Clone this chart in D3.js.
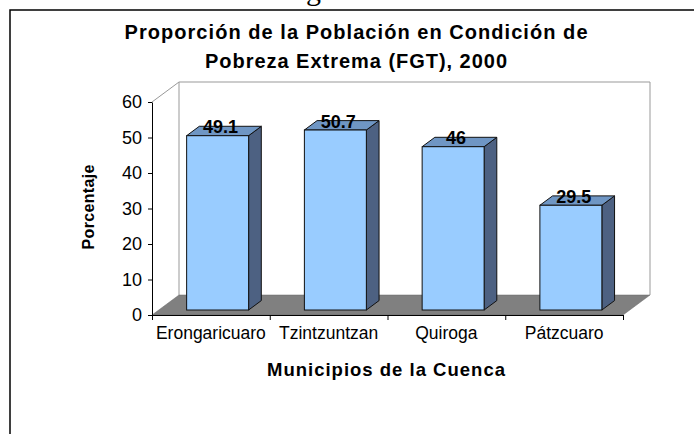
<!DOCTYPE html>
<html>
<head>
<meta charset="utf-8">
<script src="https://cdn.jsdelivr.net/npm/d3@7"></script>
<style>
  body { margin: 0; background: #fff; }
  text { font-family: "Liberation Sans", Arial, sans-serif; }
</style>
</head>
<body>
<div id="vis"></div>
<script>
// data
const categories = ["Erongaricuaro", "Tzintzuntzan", "Quiroga", "Pátzcuaro"];
const values = [49.1, 50.7, 46, 29.5];
const yTicks = [0, 10, 20, 30, 40, 50, 60];
const titleLines = ["Proporción de la Población en Condición de", "Pobreza Extrema (FGT), 2000"];
const titleWidths = [463, 302];
const xTitle = "Municipios de la Cuenca";
const yTitle = "Porcentaje";

const W = 694, H = 434;

let svg = d3.select('#vis')
  .append('svg')
  .attr('width', W)
  .attr('height', H)
  .style('background-color', '#fff');

// caption of the page above, cut off by the picture edge
svg.append("text")
  .attr("x", 281).attr("y", 0)
  .style("font-family", "'Liberation Serif', 'Times New Roman', serif")
  .style("font-size", "30px")
  .text("Figura");

// frame
svg.append("path")
  .attr("d", "M10,434 L10,10 L694,10")
  .attr("fill", "none")
  .attr("stroke", "#000")
  .attr("stroke-width", 1.5);

// title
svg.selectAll(".title")
  .data(titleLines)
  .enter()
  .append("text")
    .attr("class", "title")
    .attr("x", 356)
    .attr("y", (d, i) => 39 + i * 29)
    .attr("text-anchor", "middle")
    .attr("textLength", (d, i) => titleWidths[i])
    .attr("lengthAdjust", "spacing")
    .style("font-weight", "bold")
    .style("font-size", "20px")
    .text(d => d);

// scales
let yScale = d3.scaleLinear().domain([0, 60]).range([315, 102]);
let xScale = d3.scaleBand()
  .domain(categories)
  .range([152, 623])
  .paddingInner(0.4737)
  .paddingOuter(0.2368);

// 3d depth
const depthX = 27, depthY = -20;
const barFront = 0.25, barBack = 0.72;

let [x0, x1] = xScale.range();
let yb = yScale(0), yt = yScale(60);

// back wall
svg.append("path")
  .attr("d", `M${x0 + depthX},${yb + depthY} L${x0 + depthX},${yt + depthY} L${x1 + depthX},${yt + depthY} L${x1 + depthX},${yb + depthY}`)
  .attr("fill", "#fff")
  .attr("stroke", "#999")
  .attr("stroke-width", 1);

// side wall top edge
svg.append("line")
  .attr("x1", x0).attr("y1", yt)
  .attr("x2", x0 + depthX).attr("y2", yt + depthY)
  .attr("stroke", "#999");

// floor
svg.append("path")
  .attr("d", `M${x0},${yb} L${x1},${yb} L${x1 + depthX},${yb + depthY} L${x0 + depthX},${yb + depthY} Z`)
  .attr("fill", "#808080")
  .attr("stroke", "#666")
  .attr("stroke-width", 0.5);

// bars
let bars = svg.append("g")
  .selectAll("g")
  .data(categories.map((c, i) => ({ cat: c, value: values[i] })))
  .enter()
  .append("g");

function barGeom(d) {
  let fx = xScale(d.cat) + depthX * barFront;
  let fy = yScale(d.value) + depthY * barFront;
  let by = yScale(0) + depthY * barFront;
  let w = xScale.bandwidth();
  let dx = depthX * (barBack - barFront), dy = depthY * (barBack - barFront);
  return { fx, fy, by, w, dx, dy };
}

// side face
bars.append("path")
  .attr("d", d => {
    let g = barGeom(d);
    return `M${g.fx + g.w},${g.by} L${g.fx + g.w + g.dx},${g.by + g.dy} L${g.fx + g.w + g.dx},${g.fy + g.dy} L${g.fx + g.w},${g.fy} Z`;
  })
  .attr("fill", "#4d6182")
  .attr("stroke", "#111")
  .attr("stroke-width", 1)
  .attr("stroke-linejoin", "round");

// top face
bars.append("path")
  .attr("d", d => {
    let g = barGeom(d);
    return `M${g.fx},${g.fy} L${g.fx + g.dx},${g.fy + g.dy} L${g.fx + g.w + g.dx},${g.fy + g.dy} L${g.fx + g.w},${g.fy} Z`;
  })
  .attr("fill", "#6f96c4")
  .attr("stroke", "#111")
  .attr("stroke-width", 1)
  .attr("stroke-linejoin", "round");

// front face
bars.append("rect")
  .attr("x", d => barGeom(d).fx)
  .attr("y", d => barGeom(d).fy)
  .attr("width", xScale.bandwidth())
  .attr("height", d => barGeom(d).by - barGeom(d).fy)
  .attr("fill", "#99ccff")
  .attr("stroke", "#111")
  .attr("stroke-width", 1);

// value labels
bars.append("text")
  .attr("x", d => barGeom(d).fx + xScale.bandwidth() / 2 + 3)
  .attr("y", d => barGeom(d).fy - 2.5)
  .attr("text-anchor", "middle")
  .style("font-weight", "bold")
  .style("font-size", "18px")
  .text(d => d.value);

// y axis
let yAxis = svg.append("g")
  .attr("transform", `translate(${x0},0)`)
  .call(d3.axisLeft(yScale).tickValues(yTicks).tickSize(4).tickPadding(6).tickSizeOuter(0));
yAxis.selectAll("text").style("font-size", "18px").attr("fill", "#000");
yAxis.selectAll("line, path").attr("stroke", "#000");

// x axis: ticks between categories, labels centered on bands
let xTickScale = d3.scaleLinear().domain([0, categories.length]).range([x0, x1]);
let xAxis = svg.append("g")
  .attr("transform", `translate(0,${yb})`)
  .call(d3.axisBottom(xTickScale).tickValues(d3.range(categories.length + 1)).tickFormat("").tickSize(5).tickSizeOuter(0));
xAxis.selectAll("line, path").attr("stroke", "#000");

let xLabels = svg.append("g")
  .attr("transform", `translate(0,${yb})`)
  .call(d3.axisBottom(xScale).tickSize(0).tickPadding(12));
xLabels.select(".domain").remove();
xLabels.selectAll("text").style("font-size", "17.5px").attr("fill", "#000");

// axis titles
svg.append("text")
  .attr("x", 386)
  .attr("y", 376)
  .attr("text-anchor", "middle")
  .attr("textLength", 238)
  .attr("lengthAdjust", "spacing")
  .style("font-weight", "bold")
  .style("font-size", "18.5px")
  .text(xTitle);

svg.append("text")
  .attr("transform", "translate(94,207) rotate(-90)")
  .attr("text-anchor", "middle")
  .attr("textLength", 85)
  .attr("lengthAdjust", "spacing")
  .style("font-weight", "bold")
  .style("font-size", "16px")
  .text(yTitle);
</script>
</body>
</html>
